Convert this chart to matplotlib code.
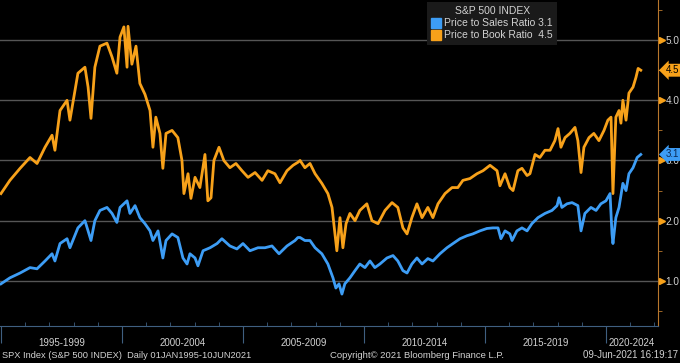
import matplotlib
matplotlib.use("Agg")
import matplotlib.pyplot as plt
import matplotlib.transforms as mtransforms
from matplotlib.lines import Line2D

# ---------- data (decimal years, ratio) ----------
pb_years = [1995.0, 1995.37, 1995.79, 1996.2, 1996.49, 1996.82, 1997.11, 1997.23, 1997.44, 1997.73,
            1997.85, 1998.18, 1998.47, 1998.6, 1998.72, 1998.88, 1999.09, 1999.38, 1999.59, 1999.79,
            1999.92, 2000.08, 2000.21, 2000.25, 2000.41, 2000.58, 2000.74, 2000.95, 2001.16, 2001.28,
            2001.4, 2001.57, 2001.69, 2001.82, 2002.07, 2002.31, 2002.48, 2002.56, 2002.73, 2002.85,
            2003.02, 2003.22, 2003.43, 2003.55, 2003.68, 2003.8, 2004.01, 2004.21, 2004.46, 2004.71,
            2004.96, 2005.21, 2005.5, 2005.79, 2006.03, 2006.32, 2006.53, 2006.82, 2007.07, 2007.27,
            2007.36, 2007.56, 2007.77, 2007.98, 2008.26, 2008.51, 2008.68, 2008.8, 2008.88, 2009.01,
            2009.13, 2009.26, 2009.42, 2009.63, 2009.83, 2010.12, 2010.33, 2010.58, 2010.87, 2011.16,
            2011.4, 2011.61, 2011.78, 2011.98, 2012.19, 2012.4, 2012.64, 2012.85, 2013.06, 2013.35,
            2013.64, 2013.88, 2014.09, 2014.38, 2014.67, 2014.92, 2015.21, 2015.5, 2015.62, 2015.83,
            2016.03, 2016.16, 2016.36, 2016.53, 2016.74, 2016.86, 2017.07, 2017.27, 2017.48, 2017.69,
            2017.89, 2018.02, 2018.14, 2018.31, 2018.51, 2018.72, 2018.84, 2018.97, 2019.09, 2019.3,
            2019.5, 2019.71, 2019.92, 2020.08, 2020.21, 2020.29, 2020.41, 2020.54, 2020.62, 2020.7,
            2020.83, 2020.95, 2021.12, 2021.24, 2021.33, 2021.44]
pb_vals = [2.45, 2.67, 2.87, 3.05, 2.95, 3.22, 3.42, 3.17, 3.83, 4.0,
           3.67, 4.45, 4.55, 4.22, 3.7, 4.55, 4.9, 4.95, 4.72, 4.45,
           5.05, 5.22, 4.55, 5.23, 4.6, 4.9, 4.28, 4.1, 3.83, 3.22,
           3.72, 3.45, 2.87, 3.45, 3.5, 3.38, 3.0, 2.45, 2.78, 2.37,
           2.72, 2.55, 3.1, 2.33, 2.38, 3.0, 3.22, 3.0, 2.88, 2.95,
           2.83, 2.72, 2.8, 2.67, 2.83, 2.78, 2.63, 2.83, 2.92, 2.97,
           3.0, 2.88, 2.95, 2.78, 2.62, 2.45, 2.22, 1.78, 1.5, 2.05,
           1.55, 1.95, 2.12, 2.0, 2.17, 2.28, 2.0, 1.95, 2.17, 2.3,
           2.22, 1.88, 1.78, 2.05, 2.28, 2.05, 2.22, 2.05, 2.28, 2.45,
           2.55, 2.55, 2.67, 2.7, 2.78, 2.83, 2.92, 2.83, 2.58, 2.78,
           2.55, 2.5, 2.83, 2.87, 2.75, 2.78, 3.1, 3.05, 3.17, 3.17,
           3.33, 3.53, 3.22, 3.38, 3.45, 3.55, 3.33, 2.8, 3.22, 3.38,
           3.45, 3.33, 3.5, 3.67, 3.72, 2.45, 3.72, 3.83, 3.62, 4.0,
           3.67, 4.12, 4.22, 4.38, 4.53, 4.5]

ps_years = [1995.0, 1995.37, 1995.79, 1996.2, 1996.49, 1996.82, 1997.11, 1997.23, 1997.44, 1997.73,
            1997.85, 1998.18, 1998.47, 1998.6, 1998.72, 1998.88, 1999.09, 1999.38, 1999.59, 1999.79,
            1999.92, 2000.21, 2000.33, 2000.54, 2000.74, 2000.95, 2001.16, 2001.28, 2001.49, 2001.69,
            2001.82, 2002.07, 2002.31, 2002.52, 2002.69, 2002.81, 2003.02, 2003.14, 2003.35, 2003.64,
            2003.93, 2004.13, 2004.46, 2004.75, 2005.0, 2005.29, 2005.62, 2005.91, 2006.2, 2006.49,
            2006.82, 2007.15, 2007.27, 2007.36, 2007.56, 2007.77, 2007.98, 2008.26, 2008.51, 2008.72,
            2008.84, 2008.97, 2009.09, 2009.21, 2009.42, 2009.63, 2009.83, 2010.04, 2010.25, 2010.45,
            2010.66, 2010.95, 2011.2, 2011.4, 2011.61, 2011.78, 2011.98, 2012.19, 2012.4, 2012.64,
            2012.85, 2013.14, 2013.43, 2013.68, 2013.97, 2014.26, 2014.5, 2014.79, 2015.08, 2015.33,
            2015.54, 2015.66, 2015.83, 2016.03, 2016.12, 2016.32, 2016.53, 2016.74, 2016.94, 2017.19,
            2017.48, 2017.77, 2017.98, 2018.06, 2018.18, 2018.39, 2018.6, 2018.84, 2018.97, 2019.13,
            2019.38, 2019.59, 2019.79, 2020.0, 2020.17, 2020.25, 2020.29, 2020.41, 2020.54, 2020.7,
            2020.83, 2020.95, 2021.12, 2021.29, 2021.44]
ps_vals = [0.95, 1.05, 1.13, 1.22, 1.2, 1.33, 1.45, 1.33, 1.62, 1.7,
           1.55, 1.88, 2.0, 1.83, 1.67, 2.0, 2.17, 2.22, 2.12, 1.97,
           2.22, 2.33, 2.12, 2.25, 2.05, 1.95, 1.83, 1.67, 1.83, 1.38,
           1.67, 1.78, 1.72, 1.38, 1.28, 1.45, 1.38, 1.25, 1.5, 1.55,
           1.62, 1.7, 1.58, 1.53, 1.62, 1.5, 1.55, 1.55, 1.58, 1.45,
           1.58, 1.67, 1.72, 1.72, 1.67, 1.67, 1.55, 1.45, 1.28, 1.05,
           0.88, 0.95, 0.78, 0.95, 1.05, 1.17, 1.28, 1.22, 1.33, 1.22,
           1.28, 1.38, 1.42, 1.33, 1.17, 1.13, 1.28, 1.38, 1.28, 1.37,
           1.33, 1.45, 1.55, 1.62, 1.7, 1.75, 1.78, 1.83, 1.87, 1.88,
           1.88, 1.7, 1.83, 1.78, 1.67, 1.83, 1.88, 1.83, 1.95, 2.05,
           2.12, 2.17, 2.25, 2.38, 2.22, 2.28, 2.3, 2.25, 1.83, 2.12,
           2.22, 2.17, 2.28, 2.33, 2.45, 1.78, 1.62, 2.05, 2.22, 2.62,
           2.5, 2.78, 2.88, 3.05, 3.1]

period_labels = ["1995-1999", "2000-2004", "2005-2009", "2010-2014", "2015-2019", "2020-2024"]
period_starts = [1995, 2000, 2005, 2010, 2015, 2020]

ORANGE = "#f7a11a"
BLUE = "#3d9df5"
TXT = "#d2d2d2"

fig = plt.figure(figsize=(6.8, 3.63), dpi=100, facecolor="black")
plt.rcParams["font.family"] = ["Liberation Sans", "DejaVu Sans"]
ax = fig.add_axes([0, 0.102, 0.9676, 0.898])
ax.set_facecolor("black")

xmin, xmax = 1994.96, 2022.15
ax.set_xlim(xmin, xmax)
ax.set_ylim(0.25, 5.667)

for g in [1, 2, 3, 4, 5]:
    ax.axhline(g, color="#555555", lw=1.0, zorder=1)

ax.plot(pb_years, pb_vals, color=ORANGE, lw=2.0, zorder=3)
ax.plot(ps_years, ps_vals, color=BLUE, lw=2.0, zorder=3)

# spines
for s in ["top", "left"]:
    ax.spines[s].set_visible(False)
ax.spines["right"].set_color("#b8772c")
ax.spines["bottom"].set_color("#3f5f80")

# y axis on the right
ax.yaxis.tick_right()
ax.set_yticks([1, 2, 3, 4, 5])
ax.set_yticklabels(["1.0", "2.0", "3.0", "4.0", "5.0"])
ax.set_yticks([0.5, 1.5, 2.5, 3.5, 4.5, 5.5], minor=True)
ax.tick_params(axis="y", which="major", length=0, pad=5.5, labelsize=7.2, labelcolor=TXT)
ax.tick_params(axis="y", which="minor", length=3, color="#b8772c", direction="out")
tr_y = mtransforms.blended_transform_factory(ax.transAxes, ax.transData)
ax.plot([1.006] * 5, [1, 2, 3, 4, 5], ls="none", marker=">", ms=4, color=ORANGE,
        transform=tr_y, clip_on=False, zorder=5)

# last value tags
ax.annotate("4.5", xy=(1.0, pb_vals[-1]), xycoords=tr_y, xytext=(1.012, pb_vals[-1]),
            textcoords=tr_y, va="center", ha="left", fontsize=7, color="black",
            bbox=dict(boxstyle="larrow,pad=0.15", fc=ORANGE, ec="none"),
            annotation_clip=False, zorder=6)
ax.annotate("3.1", xy=(1.0, ps_vals[-1]), xycoords=tr_y, xytext=(1.012, ps_vals[-1]),
            textcoords=tr_y, va="center", ha="left", fontsize=7, color="#0a2a55",
            bbox=dict(boxstyle="larrow,pad=0.15", fc=BLUE, ec="none"),
            annotation_clip=False, zorder=6)

# x axis ticks
ax.set_xticks(period_starts)
ax.set_xticklabels([])
ax.set_xticks(range(1996, 2023), minor=True)
ax.tick_params(axis="x", which="major", length=12, color="#3f5f80", direction="out")
ax.tick_params(axis="x", which="minor", length=3, color="#3f5f80", direction="in")
tr_x = mtransforms.blended_transform_factory(ax.transData, fig.transFigure)
for start, lab in zip(period_starts, period_labels):
    centre = (start + min(start + 5, xmax)) / 2
    ax.text(centre, 1 - 343 / 363, lab, transform=tr_x, ha="center", va="center",
            fontsize=7, color=TXT, clip_on=False)

# legend
handles = [Line2D([], [], ls="none", marker="s", ms=7, color=BLUE),
           Line2D([], [], ls="none", marker="s", ms=7, color=ORANGE)]
leg = ax.legend(handles, ["Price to Sales Ratio 3.1", "Price to Book Ratio  4.5"],
                title="S&P 500 INDEX", loc="upper center", bbox_to_anchor=(0.748, 1.0),
                fontsize=7.5, title_fontsize=7.5, frameon=True, fancybox=False,
                handlelength=0.8, handletextpad=0.3, borderpad=0.45, labelspacing=0.2,
                borderaxespad=0.15)
leg.get_frame().set_facecolor("#1a1a1a")
leg.get_frame().set_edgecolor("none")
leg.get_frame().set_alpha(1)
leg.get_title().set_color(TXT)
for t in leg.get_texts():
    t.set_color(TXT)

# footer
fy = 1 - 355 / 363
fig.text(0.003, fy, "SPX Index (S&P 500 INDEX)  Daily 01JAN1995-10JUN2021", fontsize=6.7,
         color=TXT, va="center", ha="left")
fig.text(0.485, fy, "Copyright\u00a9 2021 Bloomberg Finance L.P.", fontsize=6.8,
         color=TXT, va="center", ha="left")
fig.text(0.997, fy, "09-Jun-2021 16:19:17", fontsize=7, color=TXT, va="center", ha="right")

fig.savefig("out.png", dpi=100, facecolor="black")
